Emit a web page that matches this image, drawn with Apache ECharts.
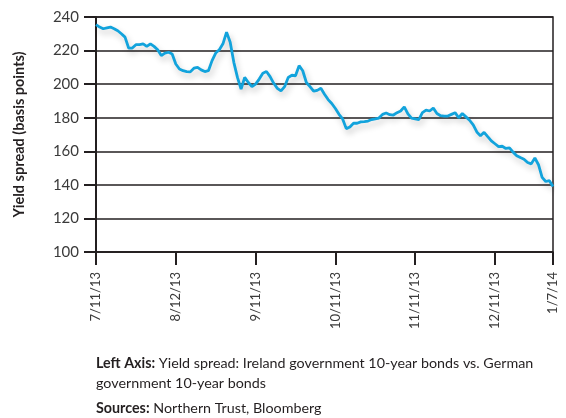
<!DOCTYPE html>
<html>
<head>
<meta charset="utf-8">
<script src="https://cdn.jsdelivr.net/npm/echarts@6/dist/echarts.min.js"></script>
<style>html,body{margin:0;padding:0;background:#fff}#c{width:566px;height:418px}</style>
</head>
<body>
<div id="c"></div>
<script>
// Yield spread (bp), one value per trading day, 7/11/13 .. 1/7/14
const spread = [
235.5,234,233,233.5,234,233,231.8,230,228,221.5,
221.5,223.5,223.5,224,222.5,224,222.5,220.5,217,218.5,
219,218,212,209,208,207.5,207.3,209.5,210,208.5,
207.5,208,214,218.5,220.5,224,231,225,213,204,
197,204,201,198.5,200,203,206.5,207.5,204.5,200.5,
197.5,196,198.5,204,205.3,205,211,208,201,198.5,
195.8,196.3,197.5,194,190.8,188.5,185.5,182,179.3,173.5,
174.5,176.7,176.7,177.5,177.7,178,178.9,179.3,179.8,182,
182.8,181.8,181.6,183,184,186.5,182.3,179.8,179.3,178.8,
183,184.5,184,185.7,182.5,181.2,181,181,182,183,
180,182.5,180.5,178.5,175.7,171.5,169.2,171.3,168.7,166.2,
164.5,162.8,163,161.7,162,159.5,157.4,156.3,155.3,153.3,
152.5,156,152,144.5,142,142.5,139
];
const tickLabels = ['7/11/13','8/12/13','9/11/13','10/11/13','11/11/13','12/11/13','1/7/14'];
const tickIndex = [0,22,44,66,88,110,126];
const yTicks = [100,120,140,160,180,200,220,240];

const categories = spread.map((v,i)=>{
  const k = tickIndex.indexOf(i);
  return k >= 0 ? tickLabels[k] : String(i);
});
const isTick = (i)=> tickIndex.indexOf(i) >= 0;
const dark = '#231f20';
const FONT = 'Lato';

const chart = echarts.init(document.getElementById('c'), null, {renderer:'canvas'});
chart.setOption({
  animation:false,
  grid:{left:96,right:13,top:17,bottom:166,show:true,borderColor:dark,borderWidth:1.5,backgroundColor:'transparent'},
  xAxis:{
    type:'category',data:categories,boundaryGap:false,
    axisLine:{show:true,lineStyle:{color:dark,width:1.5}},
    axisTick:{show:true,interval:(i)=>isTick(i),length:13,lineStyle:{color:dark,width:2}},
    axisLabel:{interval:(i)=>isTick(i),rotate:90,margin:20,fontSize:13,color:'#3a3a3a',fontFamily:FONT},
    splitLine:{show:false}
  },
  yAxis:{
    type:'value',min:yTicks[0],max:yTicks[yTicks.length-1],interval:20,
    name:'Yield spread (basis points)',nameLocation:'middle',nameGap:69,
    nameTextStyle:{fontSize:14.5,fontWeight:'bold',color:dark,fontFamily:FONT},
    axisLine:{show:true,lineStyle:{color:dark,width:2}},
    axisTick:{show:true,length:12,lineStyle:{color:dark,width:2}},
    axisLabel:{margin:17,fontSize:15,color:'#3a3a3a',fontFamily:FONT},
    splitLine:{show:true,lineStyle:{color:dark,width:1.5}}
  },
  series:[{
    type:'line',data:spread,symbol:'none',smooth:false,
    lineStyle:{color:'#12a3dc',width:2.8,shadowColor:'rgba(0,0,0,0.22)',shadowBlur:6,shadowOffsetX:2,shadowOffsetY:4}
  }],
  graphic:[
    {type:'text',left:96,top:356,style:{text:'{b|Left Axis:} Yield spread: Ireland government 10-year bonds vs. German',
      font:'14.3px '+FONT,fill:dark,rich:{b:{fontWeight:'bold',fontSize:14.3,fontFamily:FONT,fill:dark}}}},
    {type:'text',left:96,top:376,style:{text:'government 10-year bonds',font:'14.3px '+FONT,fill:dark}},
    {type:'text',left:96,top:401,style:{text:'{b|Sources:} Northern Trust, Bloomberg',
      font:'14.3px '+FONT,fill:dark,rich:{b:{fontWeight:'bold',fontSize:14.3,fontFamily:FONT,fill:dark}}}}
  ]
});
</script>
</body>
</html>
